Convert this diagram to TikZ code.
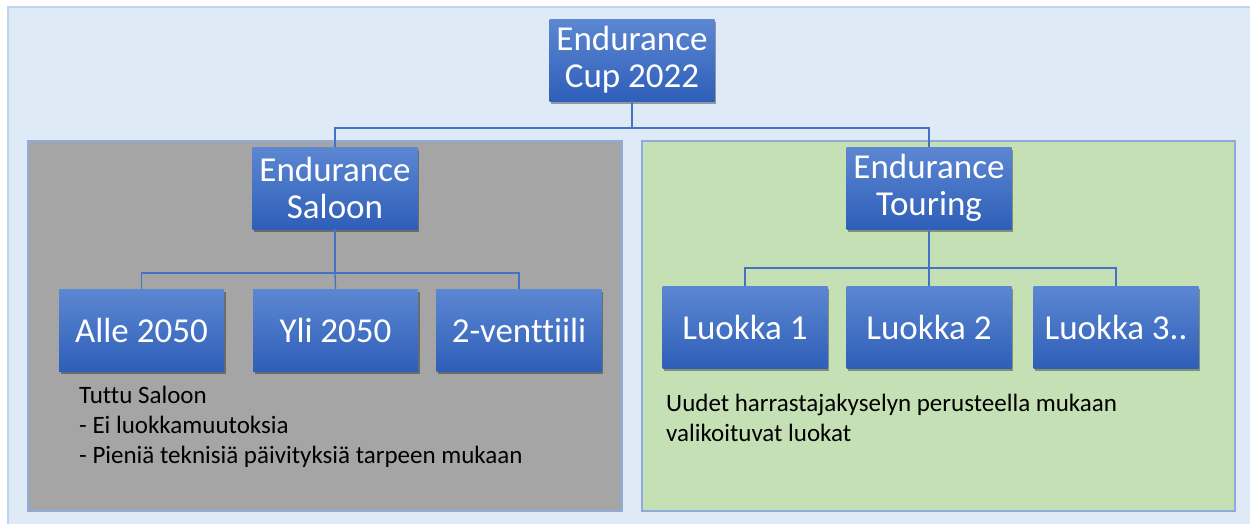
\documentclass[tikz,border=0pt]{standalone}
\usepackage{fontspec}
\setmainfont{Carlito}[Ligatures={NoCommon}]
\usetikzlibrary{shadows}
\definecolor{outerbg}{RGB}{222,235,247}
\definecolor{outerline}{RGB}{190,213,240}
\definecolor{panelline}{RGB}{143,170,220}
\definecolor{graypanel}{RGB}{165,165,165}
\definecolor{greenpanel}{RGB}{197,224,180}
\definecolor{boxtop}{RGB}{92,135,210}
\definecolor{boxbot}{RGB}{46,94,184}
\definecolor{conn}{RGB}{68,114,196}
\tikzset{
  orgbox/.style={rectangle, minimum width=165pt, minimum height=82pt, inner sep=0pt,
    top color=boxtop, bottom color=boxbot, draw=none, text=white, align=center,
    font=\fontsize{35}{37}\selectfont,
    drop shadow={shadow xshift=1.5pt, shadow yshift=-2.5pt, opacity=0.35, fill=black}},
  conline/.style={draw=conn, line width=1.3pt},
  note/.style={align=left, inner sep=0pt, anchor=north west, text=black, font=\fontsize{25}{30}\selectfont},
  panel/.style={draw=panelline, line width=1.2pt}
}
\begin{document}
\begin{tikzpicture}[x=1pt,y=-1pt]
\useasboundingbox (0,0) rectangle (1250,523);
\fill[white] (0,0) rectangle (1250,523);
\filldraw[fill=outerbg, draw=outerline, line width=1.5pt] (8,7) rectangle (1260,533);
\filldraw[panel, fill=graypanel] (28,141) rectangle (622,511);
\filldraw[panel, fill=greenpanel] (642,141) rectangle (1235,511);

\node[orgbox] (top) at (632,60) {Endurance\\Cup 2022};
\node[orgbox] (saloon) at (335,188) {Endurance\\Saloon};
\node[orgbox] (touring) at (929,188) {Endurance\\Touring};
\node[orgbox] (alle) at (141.5,330) {Alle 2050};
\node[orgbox] (yli) at (335.5,330) {Yli 2050};
\node[orgbox] (vent) at (519,330) {2-venttiili};
\node[orgbox] (l1) at (745,327) {Luokka 1};
\node[orgbox] (l2) at (929,327) {Luokka 2};
\node[orgbox] (l3) at (1116,327) {Luokka 3..};

\coordinate (j1) at (632,128);
\coordinate (j2) at (335,273);
\coordinate (j3) at (929,268);
\draw[conline] (top.south) -- (j1);
\draw[conline] (j1) -| (saloon.north);
\draw[conline] (j1) -| (touring.north);
\draw[conline] (saloon.south) -- (j2);
\draw[conline] (j2) -| (alle.north);
\draw[conline] (j2) -- (yli.north);
\draw[conline] (j2) -| (vent.north);
\draw[conline] (touring.south) -- (j3);
\draw[conline] (j3) -| (l1.north);
\draw[conline] (j3) -- (l2.north);
\draw[conline] (j3) -| (l3.north);

\node[note] (saloontext) at (79,385.5) {Tuttu Saloon\\- Ei luokkamuutoksia\\- Pieniä teknisiä päivityksiä tarpeen mukaan};
\node[note] (touringtext) at (666,393.5) {Uudet harrastajakyselyn perusteella mukaan\\valikoituvat luokat};
\end{tikzpicture}
\end{document}
